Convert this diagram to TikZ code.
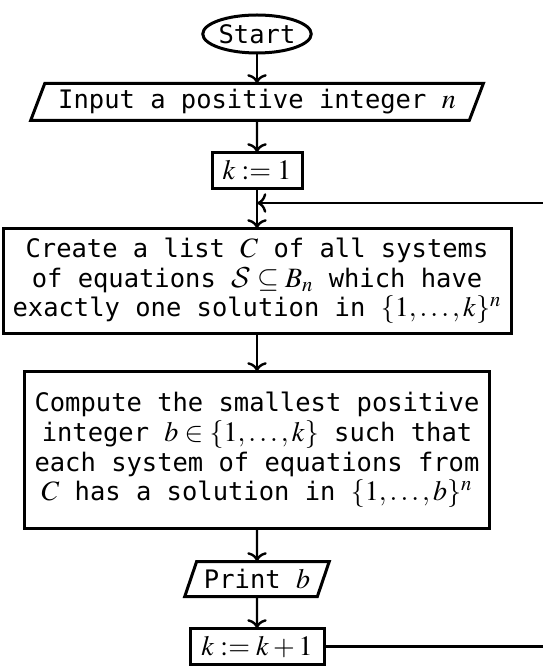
\documentclass[tikz,border=0pt]{standalone}
\usepackage{mathptmx}
\DeclareMathAlphabet{\mathcal}{OMS}{cmsy}{m}{n}
\usepackage[no-math]{fontspec}
\setmonofont[Scale=0.91]{DejaVu Sans Mono}
\usepackage{tikz}
\usetikzlibrary{shapes.geometric, arrows.meta, positioning}
\tikzset{
    startstop/.style={
        ellipse,
        draw=black,
        line width=1.5pt,
        outer sep=0pt,
        minimum width=51pt,
        minimum height=19pt,
        inner sep=0pt,
        font=\ttfamily\fontsize{14}{14}\selectfont
    },
    io/.style={
        trapezium,
        trapezium left angle=62,
        trapezium right angle=118,
        trapezium stretches=true,
        draw=black,
        line width=1.5pt,
        outer sep=0pt,
        inner sep=0pt,
        font=\ttfamily\fontsize{14}{14}\selectfont
    },
    process/.style={
        rectangle,
        draw=black,
        line width=1.5pt,
        outer sep=0pt,
        align=center,
        inner sep=0pt,
        font=\ttfamily\fontsize{14}{14.8}\selectfont
    },
    arrow/.style={line width=1.2pt, -{To[scale=1.1]}}
}
\begin{document}
\begin{tikzpicture}

        \useasboundingbox (0,0) rectangle (271pt,-333.5pt);

        \node (start) [startstop] at (128.5pt,-17pt) {Start};
        \node (input) [io, minimum width=226.5pt, minimum height=18.5pt] at (128.5pt,-51pt) {Input a positive integer $n$};
        \node (kone) [process, minimum width=45pt, minimum height=18pt] at (128.5pt,-85.25pt) {$k := 1$};
        \node (create) [process, minimum width=254pt, minimum height=52.5pt] at (128.5pt,-140.5pt) {Create a list $C$ of all systems\\of equations $\mathcal{S}\subseteq B_n$ which have\\exactly one solution in $\{1,\ldots,k\}^n$};
        \node (compute) [process, minimum width=232.5pt, minimum height=78.5pt] at (128.5pt,-225pt) {Compute the smallest positive\\integer $b\in\{1,\ldots,k\}$ such that\\each system of equations from\\$C$ has a solution in $\{1,\ldots,b\}^n$};
        \node (print) [io, minimum width=72.5pt, minimum height=17.5pt] at (128.5pt,-289.5pt) {Print $b$};
        \node (inc) [process, minimum width=67pt, minimum height=18pt] at (128.5pt,-323.25pt) {$k := k + 1$};

        \coordinate (join) at (kone.south |- 0,-101.5pt);
        \coordinate (back) at (274pt,0);

        \draw [arrow] (start) -- (input);
        \draw [arrow] (input) -- (kone);
        \draw [arrow] (kone) -- (create);
        \draw [arrow] (create) -- (compute);
        \draw [arrow] (compute) -- (print);
        \draw [arrow] (print) -- (inc);
        \draw [arrow] (inc.east) -| (back |- join) -- (join);

    \end{tikzpicture}
\end{document}
